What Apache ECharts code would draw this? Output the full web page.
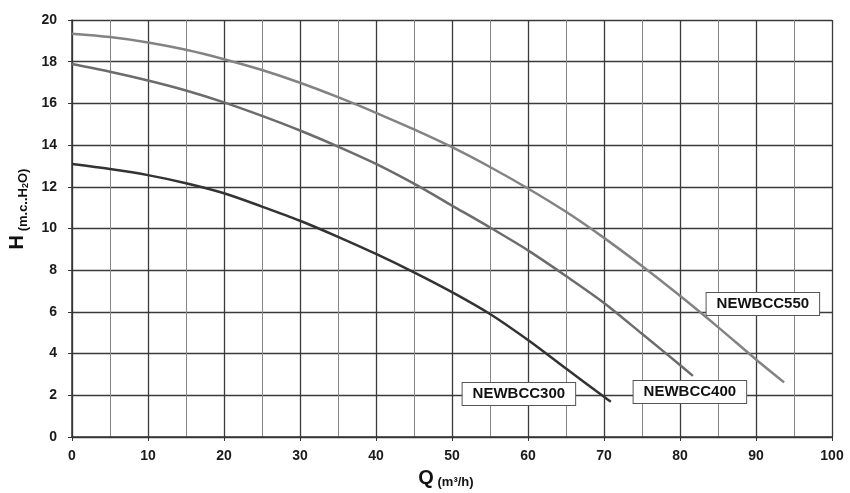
<!DOCTYPE html>
<html><head><meta charset="utf-8">
<script src="https://cdn.jsdelivr.net/npm/echarts@6/dist/echarts.min.js"></script>
<style>html,body{margin:0;padding:0;background:#fff}#c{width:850px;height:493px}</style>
</head><body><div id="c"></div>
<script>
const names = ['NEWBCC550', 'NEWBCC400', 'NEWBCC300'];
const q550 = [0,5,10,15,20,25,30,35,40,45,50,55,60,65,70,75,80,85,90,93.7];
const h550 = [19.34,19.18,18.92,18.57,18.12,17.6,16.99,16.3,15.55,14.75,13.9,12.95,11.92,10.8,9.55,8.2,6.77,5.27,3.72,2.62];
const q400 = [0,5,10,15,20,25,30,35,40,45,50,55,60,65,70,75,80,81.7];
const h400 = [17.89,17.52,17.1,16.62,16.05,15.4,14.7,13.93,13.1,12.15,11.1,10.05,8.95,7.72,6.43,4.95,3.45,2.93];
const q300 = [0,5,10,15,20,25,30,35,40,45,50,55,60,65,70,70.9];
const h300 = [13.09,12.85,12.56,12.17,11.69,11.05,10.37,9.6,8.78,7.9,6.95,5.9,4.65,3.28,1.93,1.69];
const labelQ = [90.9, 81.3, 58.8];
const labelH = [6.38, 2.16, 2.06];
const colors = ['#838383', '#6c6c6c', '#333333'];

const qs = [q550, q400, q300], hs = [h550, h400, h300];
const chart = echarts.init(document.getElementById('c'));
const series = names.map((n, i) => ({
  type: 'line', name: n, smooth: 0.3, symbol: 'none',
  data: qs[i].map((q, k) => [q, hs[i][k]]),
  lineStyle: { color: colors[i], width: 2.5 },
  z: 5,
  markPoint: {
    symbol: 'rect', symbolSize: 1, itemStyle: { color: 'rgba(0,0,0,0)' },
    data: [{ coord: [labelQ[i], labelH[i]], value: n }],
    label: {
      show: true, position: 'inside', formatter: n,
      color: '#111', fontFamily: 'Liberation Sans, Arial', fontWeight: 'bold', fontSize: 15,
      backgroundColor: '#fff', borderColor: '#555', borderWidth: 1, padding: [4, 10, 3, 10]
    }
  }
}));
const ax = {
  type: 'value', min: 0,
  axisLine: { show: true, onZero: false, lineStyle: { color: '#333', width: 1.5 } },
  axisTick: { show: true, length: 4, lineStyle: { color: '#333', width: 1 } },
  axisLabel: { color: '#1a1a1a', fontFamily: 'Liberation Sans, Arial', fontWeight: 'bold', fontSize: 14 },
  splitLine: { show: true, lineStyle: { color: '#3a3a3a', width: 1.3 } }
};
chart.setOption({
  animation: false,
  backgroundColor: '#fff',
  grid: { left: 72, top: 20, right: 18, bottom: 56, containLabel: false },
  xAxis: Object.assign({}, ax, {
    max: 100, interval: 10,
    axisLabel: Object.assign({}, ax.axisLabel, { margin: 12 }),
    minorTick: { show: false, splitNumber: 2 },
    minorSplitLine: { show: true, lineStyle: { color: '#858585', width: 1 } }
  }),
  yAxis: Object.assign({}, ax, {
    max: 20, interval: 2,
    axisLabel: Object.assign({}, ax.axisLabel, { margin: 15 })
  }),
  series: series,
  graphic: [
    {
      type: 'text', x: 446, y: 478,
      style: {
        text: '{a|Q}{b| (m³/h)}', align: 'center', verticalAlign: 'middle',
        rich: {
          a: { fontSize: 20, fontWeight: 'bold', fill: '#111', fontFamily: 'Liberation Sans, Arial', lineHeight: 22 },
          b: { fontSize: 13, fontWeight: 'bold', fill: '#111', fontFamily: 'Liberation Sans, Arial', lineHeight: 22, verticalAlign: 'bottom' }
        }
      }
    },
    {
      type: 'text', x: 17, y: 209, rotation: Math.PI / 2,
      style: {
        text: '{a|H}{b| (m.c..H}{s|2}{b|O)}', align: 'center', verticalAlign: 'middle',
        rich: {
          a: { fontSize: 20, fontWeight: 'bold', fill: '#111', fontFamily: 'Liberation Sans, Arial', lineHeight: 22 },
          b: { fontSize: 13, fontWeight: 'bold', fill: '#111', fontFamily: 'Liberation Sans, Arial', lineHeight: 22, verticalAlign: 'bottom' },
          s: { fontSize: 9, fontWeight: 'bold', fill: '#111', fontFamily: 'Liberation Sans, Arial', lineHeight: 26, verticalAlign: 'bottom' }
        }
      }
    }
  ]
});
</script></body></html>
